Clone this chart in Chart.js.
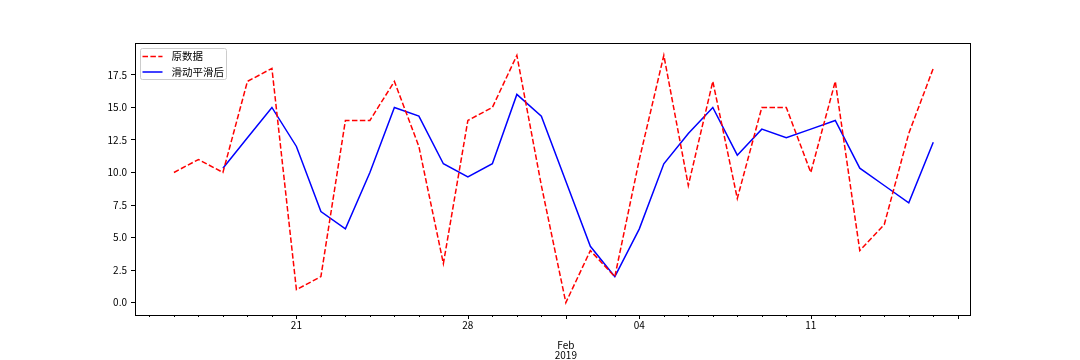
<!DOCTYPE html>
<html>
<head>
<meta charset="utf-8">
<script src="https://cdn.jsdelivr.net/npm/chart.js@4.4.1/dist/chart.umd.min.js"></script>
<style>
  body { margin: 0; background: #fff; }
  #wrap { width: 1080px; height: 360px; }
</style>
</head>
<body>
<div id="wrap"><canvas id="smoothChart" width="1080" height="360"></canvas></div>
<script>
// days counted from 2019-01-16 (index 0) to 2019-02-16 (index 31)
const rawValues = [10, 11, 10, 17, 18, 1, 2, 14, 14, 17, 12, 3, 14, 15, 19, 9,
                   0, 4, 2, 11, 19, 9, 17, 8, 15, 15, 10, 17, 4, 6, 13, 18];
const smoothValues = [null, null, 10.33, 12.67, 15, 12, 7, 5.67, 10, 15, 14.33, 10.67, 9.67, 10.67, 16, 14.33,
                      9.33, 4.33, 2, 5.67, 10.67, 13, 15, 11.33, 13.33, 12.67, 13.33, 14, 10.33, 9, 7.67, 12.33];
const seriesNames = ['原数据', '滑动平滑后'];

const minorTickDays = [-1, 0, 1, 2, 3, 4, 5, 6, 7, 8, 9, 10, 11, 12, 13, 14, 15, 16,
                       17, 18, 19, 20, 21, 22, 23, 24, 25, 26, 27, 28, 29, 30, 31, 32];
const majorTickDays = [5, 12, 16, 19, 26, 32];
const labelDays = [5, 12, 16, 19, 26];
const labelTexts = ['21', '28', ['', '', 'Feb', '2019'], '04', '11'];
const yTickValues = [0, 2.5, 5, 7.5, 10, 12.5, 15, 17.5];

const FONT = '"Noto Sans CJK SC", "DejaVu Sans", sans-serif';

function toPoints(values) {
    return values.map((v, i) => ({ x: i, y: v }));
}

const frameAndLegend = {
    id: 'frameAndLegend',
    afterDraw(chart) {
        const ctx = chart.ctx;
        const area = chart.chartArea;
        const xs = chart.scales.x;
        ctx.save();
        ctx.strokeStyle = '#000';
        ctx.lineWidth = 1;
        // x tick marks, longer on the major days
        minorTickDays.forEach(d => {
            const px = Math.round(xs.getPixelForValue(d)) + 0.5;
            const len = majorTickDays.includes(d) ? 4 : 2;
            ctx.beginPath();
            ctx.moveTo(px, area.bottom);
            ctx.lineTo(px, area.bottom + len);
            ctx.stroke();
        });
        // axes box
        ctx.strokeRect(Math.round(area.left) + 0.5, Math.round(area.top) + 0.5,
                       Math.round(area.right - area.left), Math.round(area.bottom - area.top));

        // legend, upper left inside the axes
        const lx = area.left + 5.5, ly = area.top + 5.5;
        ctx.fillStyle = 'rgba(255,255,255,0.8)';
        ctx.strokeStyle = '#cccccc';
        ctx.beginPath();
        ctx.roundRect(lx, ly, 86, 31, 2);
        ctx.fill();
        ctx.stroke();
        ctx.font = '10.5px ' + FONT;
        ctx.textBaseline = 'middle';
        ctx.fillStyle = '#000';
        chart.data.datasets.forEach((ds, i) => {
            const y = ly + 8 + i * 15.5;
            ctx.strokeStyle = ds.borderColor;
            ctx.lineWidth = ds.borderWidth;
            ctx.setLineDash(ds.borderDash || []);
            ctx.beginPath();
            ctx.moveTo(lx + 2, y);
            ctx.lineTo(lx + 22, y);
            ctx.stroke();
            ctx.setLineDash([]);
            ctx.fillText(ds.label, lx + 31, y);
        });
        ctx.restore();
    }
};

function initChart() {
    const ctx = document.getElementById('smoothChart').getContext('2d');
    new Chart(ctx, {
        type: 'line',
        data: {
            datasets: [{
                label: seriesNames[0],
                data: toPoints(rawValues),
                borderColor: '#ff0000',
                backgroundColor: '#ff0000',
                borderWidth: 1.5,
                borderDash: [5.5, 2.4],
                pointRadius: 0,
                tension: 0
            }, {
                label: seriesNames[1],
                data: toPoints(smoothValues),
                borderColor: '#0000ff',
                backgroundColor: '#0000ff',
                borderWidth: 1.5,
                pointRadius: 0,
                tension: 0
            }]
        },
        options: {
            responsive: false,
            animation: false,
            layout: { padding: { left: 0, right: 110, top: 43, bottom: 0 } },
            plugins: {
                tooltip: { enabled: false },
                legend: { display: false }
            },
            scales: {
                x: {
                    type: 'linear',
                    min: -1.59,
                    max: 32.5,
                    afterBuildTicks: scale => {
                        scale.ticks = labelDays.map(d => ({ value: d }));
                    },
                    afterFit: scale => { scale.height = 45; },
                    grid: { drawOnChartArea: false, drawTicks: false },
                    border: { display: false },
                    ticks: {
                        autoSkip: false,
                        maxRotation: 0,
                        padding: 5,
                        color: '#000',
                        font: { family: FONT, size: 10, lineHeight: 1 },
                        callback: value => {
                            const k = labelDays.indexOf(value);
                            return k >= 0 ? labelTexts[k] : '';
                        }
                    }
                },
                y: {
                    min: -0.95,
                    max: 19.95,
                    afterBuildTicks: scale => {
                        scale.ticks = yTickValues.map(v => ({ value: v }));
                    },
                    afterFit: scale => { scale.width = 135; },
                    grid: { drawOnChartArea: false, drawTicks: true, tickLength: 4, color: '#000' },
                    border: { display: false },
                    ticks: {
                        padding: 4,
                        color: '#000',
                        font: { family: FONT, size: 10 },
                        callback: value => value.toFixed(1)
                    }
                }
            }
        },
        plugins: [frameAndLegend]
    });
}

document.addEventListener('DOMContentLoaded', initChart);
</script>
</body>
</html>
